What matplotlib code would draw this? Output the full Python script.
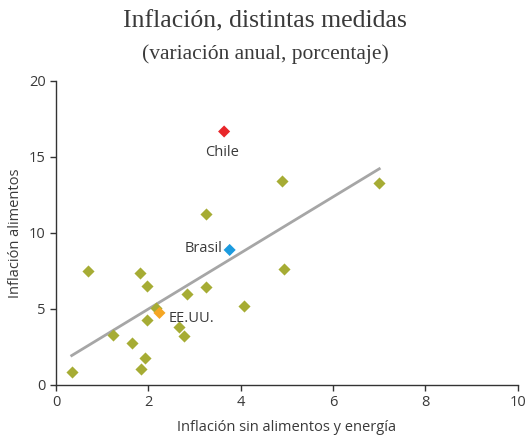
import numpy as np
import matplotlib.pyplot as plt

# core inflation (x) vs food inflation (y)
otros_x = [0.34, 0.70, 1.23, 1.65, 1.82, 1.83, 1.92, 1.97, 1.97, 2.17, 2.66,
           2.77, 2.84, 3.25, 4.06, 4.93, 3.25, 4.89, 7.00]
otros_y = [0.84, 7.52, 3.27, 2.74, 7.37, 1.05, 1.75, 6.53, 4.30, 5.09, 3.84,
           3.20, 6.01, 6.47, 5.20, 7.65, 11.23, 13.42, 13.31]
destacados = ["Chile", "Brasil", "EE.UU."]
dest_x = [3.64, 3.76, 2.24]
dest_y = [16.67, 8.88, 4.74]
dest_colores = ["#E8262A", "#1C9BDF", "#F5A623"]

sans = "Open Sans"
serif = "Liberation Serif"
texto = "#3a3a3a"

fig = plt.figure(figsize=(5.30, 4.37), dpi=100)
ax = fig.add_axes([0.1057, 0.119, 0.8713, 0.696])

# trend line over all countries
todos_x = np.array(otros_x + dest_x)
todos_y = np.array(otros_y + dest_y)
pend, corte = np.polyfit(todos_x, todos_y, 1)
lx = np.array([todos_x.min(), todos_x.max()])
ax.plot(lx, pend * lx + corte, color="#A6A6A6", lw=2, zorder=1)

ax.scatter(otros_x, otros_y, marker="D", s=38, color="#A6AC34", lw=0, zorder=2)
ax.scatter(dest_x, dest_y, marker="D", s=38, c=dest_colores, lw=0, zorder=3)

ax.text(dest_x[0] - 0.05, dest_y[0] - 0.9, "Chile", ha="center", va="top",
        fontsize=10.5, family=sans, color=texto)
ax.text(dest_x[1] - 0.15, dest_y[1] + 0.1, "Brasil", ha="right", va="center",
        fontsize=10.5, family=sans, color=texto)
ax.text(dest_x[2] + 0.2, dest_y[2] - 0.35, "EE.UU.", ha="left", va="center",
        fontsize=10.5, family=sans, color=texto)

ax.set_xlim(0, 10)
ax.set_ylim(0, 20)
ax.set_xticks(range(0, 11, 2))
ax.set_yticks(range(0, 21, 5))
for s in ["top", "right"]:
    ax.spines[s].set_visible(False)
for s in ["left", "bottom"]:
    ax.spines[s].set_color("#333333")
    ax.spines[s].set_linewidth(1.0)
ax.tick_params(direction="out", length=4, width=1, color="#333333",
               labelsize=10.5, labelcolor=texto)
for lab in ax.get_xticklabels() + ax.get_yticklabels():
    lab.set_family(sans)

ax.set_xlabel("Inflación sin alimentos y energía", fontsize=10.5,
              family=sans, color=texto, labelpad=7)
ax.set_ylabel("Inflación alimentos", fontsize=10.5, family=sans,
              color=texto, labelpad=4)

fig.text(0.5, 0.952, "Inflación, distintas medidas", ha="center", va="center",
         fontsize=18.5, family=serif, color=texto)
fig.text(0.5, 0.876, "(variación anual, porcentaje)", ha="center", va="center",
         fontsize=15.5, family=serif, color=texto)

fig.savefig("out.png", dpi=100)
